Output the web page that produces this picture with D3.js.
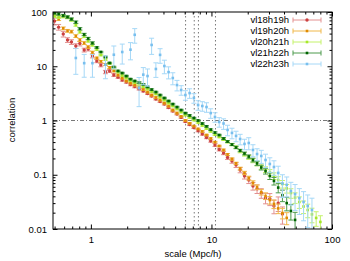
<!DOCTYPE html>
<html><head><meta charset="utf-8">
<script src="https://cdn.jsdelivr.net/npm/d3@7"></script>
<style>
body{margin:0;background:#fff}
svg{display:block}
text{font-family:"Liberation Sans",Arial,sans-serif;font-size:9.5px;fill:#000}
</style>
</head><body>
<svg id="c" width="350" height="261"></svg>
<script>
// bin centres (Mpc/h)
const scaleMpc = [0.50,0.54,0.59,0.64,0.69,0.75,0.81,0.88,0.95,1.03,1.12,1.21,1.32,1.43,1.55,1.68,1.82,1.97,2.13,2.31,2.51,2.72,2.95,3.19,3.46,3.75,4.07,4.41,4.78,5.18,5.61,6.08,6.59,7.15,7.75,8.40,9.10,9.86,10.7,11.6,12.6,13.6,14.8,16.0,17.3,18.8,20.4,22.1,23.9,25.9,28.1,30.5,33.0,35.8,38.8,42.1,45.6,49.4,53.6,58.1,62.9,68.2,73.9,80.1];

const seriesNames = ["vl18h19h","vl19h20h","vl20h21h","vl21h22h","vl22h23h"];

const vl18h19h = [68,52.6,39.3,30.5,28,23.6,26.3,19.9,20.8,15.5,
  12.5,10.5,7.83,8.2,6.9,6.3,5.58,5.12,4.6,4.22,
  3.8,3.5,3.15,2.83,2.49,2.24,2.01,1.73,1.5,1.32,
  1.14,0.96,0.84,0.74,0.65,0.564,0.486,0.42,0.354,0.292,
  0.252,0.208,0.179,0.151,0.122,0.0948,0.08,0.062,0.055,0.046,
  0.0373,0.036,0.0265,0.030,0.0189,null,null,null,null,null,
  null,null,null,null];
const vl18h19hErr = [0.15,0.12,0.12,0.1,0.1,0.1,0.1,0.08,0.08,0.08,
  0.07,0.07,0.07,0.06,0.06,0.05,0.05,0.05,0.05,0.05,
  0.04,0.04,0.04,0.04,0.04,0.04,0.04,0.04,0.04,0.04,
  0.04,0.04,0.04,0.04,0.05,0.05,0.05,0.05,0.06,0.06,
  0.07,0.08,0.09,0.1,0.11,0.12,0.14,0.16,0.18,0.2,
  0.22,0.25,0.28,0.3,0.35,0,0,0,0,0,0,0,0,0];

const vl19h20h = [92,74,50,45,43.5,36,30.5,26.8,22.6,17.9,
  14.2,12.3,10.8,9.5,8.2,6.9,6.07,5.35,4.9,4.5,
  4.15,3.72,3.35,2.95,2.65,2.39,2.1,1.85,1.56,1.37,
  1.19,1.0,0.89,0.79,0.70,0.63,0.54,0.466,0.40,0.339,
  0.286,0.237,0.195,0.162,0.13,0.108,0.087,0.071,0.059,0.048,
  0.0406,0.0342,0.029,0.024,0.0197,0.016,null,null,null,null,
  null,null,null,null];
const vl19h20hErr = [0.06,0.06,0.06,0.06,0.06,0.06,0.06,0.06,0.06,0.06,
  0.04,0.04,0.04,0.04,0.04,0.04,0.04,0.04,0.04,0.04,
  0.04,0.04,0.04,0.04,0.04,0.04,0.04,0.04,0.04,0.04,
  0.03,0.03,0.03,0.03,0.03,0.03,0.03,0.03,0.03,0.03,
  0.04,0.04,0.05,0.05,0.06,0.07,0.08,0.09,0.1,0.12,
  0.14,0.16,0.18,0.2,0.22,0.25,0,0,0,0,0,0,0,0];

const vl20h21h = [84,80,82,79,71,57.5,42.8,35.5,29.2,24.6,
  20.3,16.1,13.3,11.2,9.3,7.8,6.75,6.07,5.45,5.0,
  4.6,4.22,3.8,3.42,3.08,2.71,2.39,2.1,1.85,1.63,
  1.43,1.26,1.14,1.02,0.92,0.81,0.71,0.63,0.55,0.497,
  0.446,0.402,0.36,0.325,0.27,0.237,0.208,0.183,0.162,0.142,
  0.125,0.11,0.095,0.08,0.0675,0.056,0.046,0.038,0.0315,0.026,
  0.0224,0.0186,0.016,0.0135];
const vl20h21hErr = [0.05,0.05,0.05,0.05,0.05,0.05,0.05,0.05,0.05,0.05,
  0.03,0.03,0.03,0.03,0.03,0.03,0.03,0.03,0.03,0.03,
  0.03,0.03,0.03,0.03,0.03,0.03,0.03,0.03,0.03,0.03,
  0.03,0.03,0.03,0.03,0.03,0.03,0.03,0.03,0.03,0.03,
  0.04,0.04,0.05,0.05,0.06,0.07,0.08,0.09,0.1,0.11,
  0.12,0.13,0.14,0.15,0.16,0.18,0.2,0.22,0.24,0.26,
  0.28,0.3,0.3,0.3];

const vl21h22h = [96,92,86,81,74,65,49,38.5,32.5,26.8,
  22.2,18.3,14.8,11.5,9.7,8.2,7.5,6.6,5.8,5.35,
  5.0,4.6,4.15,3.72,3.35,2.95,2.6,2.29,2.01,1.77,
  1.56,1.37,1.24,1.11,1.0,0.88,0.78,0.68,0.60,0.54,
  0.466,0.41,0.36,0.318,0.28,0.247,0.217,0.187,0.162,0.136,
  0.117,0.095,0.077,0.058,0.042,0.030,0.0215,0.0147,null,null,
  null,null,null,null];
const vl21h22hErr = [0.05,0.05,0.05,0.05,0.05,0.05,0.05,0.05,0.05,0.05,
  0.03,0.03,0.03,0.03,0.03,0.03,0.03,0.03,0.03,0.03,
  0.03,0.03,0.03,0.03,0.03,0.03,0.03,0.03,0.03,0.03,
  0.03,0.03,0.03,0.03,0.03,0.03,0.03,0.03,0.03,0.03,
  0.04,0.04,0.04,0.05,0.05,0.06,0.07,0.08,0.09,0.1,
  0.12,0.14,0.16,0.2,0.24,0.28,0.32,0.38,0,0,0,0,0,0];

const vl22h23h = [null,null,null,null,null,14.2,null,11.4,null,11.4,
  null,null,10.7,null,16.3,null,18.3,null,20.2,38,
  4.0,7.0,6.6,24.7,8.9,16.2,10.1,7.8,6.07,4.5,
  3.65,2.95,3.2,2.6,1.93,1.85,1.77,1.37,1.16,0.94,
  0.88,0.67,0.59,0.52,0.456,0.37,0.385,0.286,0.241,0.222,
  0.187,0.158,0.139,0.108,0.069,0.065,0.05,0.044,0.037,0.0315,
  0.0265,0.0224,null,null];
const vl22h23hErr = [0,0,0,0,0,0.5,0,0.45,0,0.45,
  0,0,0.45,0,0.45,0,0.4,0,0.35,0.3,
  0.55,0.35,0.35,0.33,0.3,0.3,0.28,0.25,0.25,0.22,
  0.2,0.2,0.2,0.2,0.2,0.2,0.2,0.2,0.2,0.2,
  0.22,0.22,0.22,0.22,0.22,0.22,0.25,0.25,0.25,0.27,
  0.28,0.3,0.3,0.33,0.45,0.4,0.45,0.5,0.5,0.55,
  0.6,0.65,0,0];

const refScales = [6.1, 7.2, 7.8, 10.8];
const refCorrelation = 1;
const xTickValues = [1, 10, 100];
const yTickValues = [0.01, 0.1, 1, 10, 100];
const yTickLabels = ["0.01", "0.1", "1", "10", "100"];

const seriesValues = [vl18h19h, vl19h20h, vl20h21h, vl21h22h, vl22h23h];
const seriesErrors = [vl18h19hErr, vl19h20hErr, vl20h21hErr, vl21h22hErr, vl22h23hErr];
const pointColors = ["#cc4040", "#e08a00", "#a6e82a", "#006400", "#78bfee"];
const barColors   = ["#e39090", "#f0b84a", "#c4f26a", "#4c9a4c", "#a6d8f7"];

const L = 53, R = 332, T = 12, B = 229;
const svg = d3.select("#c");
const x = d3.scaleLog().domain([0.485, 100]).range([L, R]);
const y = d3.scaleLog().domain([0.01, 100]).range([B, T]);

svg.append("defs").append("clipPath").attr("id", "clip")
  .append("rect").attr("x", L).attr("y", T).attr("width", R - L).attr("height", B - T);

// reference lines
const ref = svg.append("g");
ref.selectAll("line.v").data(refScales).join("line")
  .attr("x1", d => x(d)).attr("x2", d => x(d)).attr("y1", T).attr("y2", B)
  .attr("stroke", "#555").attr("stroke-width", 0.8).attr("stroke-dasharray", "1.5,2.5");
ref.append("line").attr("x1", L).attr("x2", R).attr("y1", y(refCorrelation)).attr("y2", y(refCorrelation))
  .attr("stroke", "#555").attr("stroke-width", 0.8).attr("stroke-dasharray", "4,2,1,2");

// minor tick values
const minorX = [], minorY = [];
[0.1, 1, 10].forEach(dec => { for (let k = 2; k <= 9; k++) { const v = k * dec; if (v > 0.485 && v < 100) minorX.push(v); } });
[0.01, 0.1, 1, 10].forEach(dec => { for (let k = 2; k <= 9; k++) minorY.push(k * dec); });

function axisG(axis, tx, ty) {
  const g = svg.append("g").attr("transform", `translate(${tx},${ty})`).call(axis);
  g.select(".domain").remove();
  g.selectAll(".tick line").attr("stroke", "#000").attr("stroke-width", 1);
  g.selectAll("text").attr("font-family", "Liberation Sans, Arial, sans-serif").attr("font-size", "9.5px").attr("fill", "#000");
  return g;
}
axisG(d3.axisBottom(x).tickValues(xTickValues).tickSize(-4.5).tickPadding(7).tickFormat(d3.format("d")), 0, B);
axisG(d3.axisBottom(x).tickValues(minorX).tickSize(-2.5).tickFormat(""), 0, B);
axisG(d3.axisTop(x).tickValues(xTickValues).tickSize(-4.5).tickFormat(""), 0, T);
axisG(d3.axisTop(x).tickValues(minorX).tickSize(-2.5).tickFormat(""), 0, T);
axisG(d3.axisLeft(y).tickValues(yTickValues).tickSize(-4.5).tickPadding(6).tickFormat((d, i) => yTickLabels[i]), L, 0);
axisG(d3.axisLeft(y).tickValues(minorY).tickSize(-2.5).tickFormat(""), L, 0);
axisG(d3.axisRight(y).tickValues(yTickValues).tickSize(-4.5).tickFormat(""), R, 0);
axisG(d3.axisRight(y).tickValues(minorY).tickSize(-2.5).tickFormat(""), R, 0);

// series
const plot = svg.append("g").attr("clip-path", "url(#clip)");
seriesValues.forEach((vals, s) => {
  const data = scaleMpc.map((r, i) => ({ r, v: vals[i], e: seriesErrors[s][i] })).filter(d => d.v != null);
  const g = plot.append("g");
  const bars = g.selectAll("g").data(data).join("g");
  bars.append("line")
    .attr("x1", d => x(d.r)).attr("x2", d => x(d.r))
    .attr("y1", d => y(d.v * (1 + d.e))).attr("y2", d => y(Math.max(d.v * (1 - d.e), 0.001)))
    .attr("stroke", barColors[s]).attr("stroke-width", 1);
  [1, -1].forEach(sg => {
    bars.append("line")
      .attr("x1", d => x(d.r) - 2.5).attr("x2", d => x(d.r) + 2.5)
      .attr("y1", d => y(Math.max(d.v * (1 + sg * d.e), 0.001))).attr("y2", d => y(Math.max(d.v * (1 + sg * d.e), 0.001)))
      .attr("stroke", barColors[s]).attr("stroke-width", 1);
  });
  if (s === 0) {
    g.selectAll("circle").data(data).join("circle")
      .attr("cx", d => x(d.r)).attr("cy", d => y(d.v)).attr("r", 1.7).attr("fill", pointColors[s]);
  } else {
    g.selectAll("rect").data(data).join("rect")
      .attr("x", d => x(d.r) - 1.3).attr("y", d => y(d.v) - 1.3).attr("width", 2.6).attr("height", 2.6).attr("fill", pointColors[s]);
  }
});

// frame
svg.append("rect").attr("x", L).attr("y", T).attr("width", R - L).attr("height", B - T)
  .attr("fill", "none").attr("stroke", "#000").attr("stroke-width", 1);

// axis titles
svg.append("text").attr("x", 193).attr("y", 256.5).attr("text-anchor", "middle").text("scale (Mpc/h)");
svg.append("text").attr("transform", "translate(14.5,120) rotate(-90)").attr("text-anchor", "middle").text("correlation");

// legend
const leg = svg.append("g");
seriesNames.forEach((name, s) => {
  const cy = 20 + s * 11;
  leg.append("text").attr("x", 289).attr("y", cy + 3.4).attr("text-anchor", "end").text(name);
  leg.append("line").attr("x1", 293).attr("x2", 321).attr("y1", cy).attr("y2", cy).attr("stroke", barColors[s]);
  [293, 321].forEach(xx => leg.append("line").attr("x1", xx).attr("x2", xx).attr("y1", cy - 2.5).attr("y2", cy + 2.5).attr("stroke", barColors[s]));
  if (s === 0) leg.append("circle").attr("cx", 307).attr("cy", cy).attr("r", 1.7).attr("fill", pointColors[s]);
  else leg.append("rect").attr("x", 305.7).attr("y", cy - 1.3).attr("width", 2.6).attr("height", 2.6).attr("fill", pointColors[s]);
});
</script>
</body></html>
